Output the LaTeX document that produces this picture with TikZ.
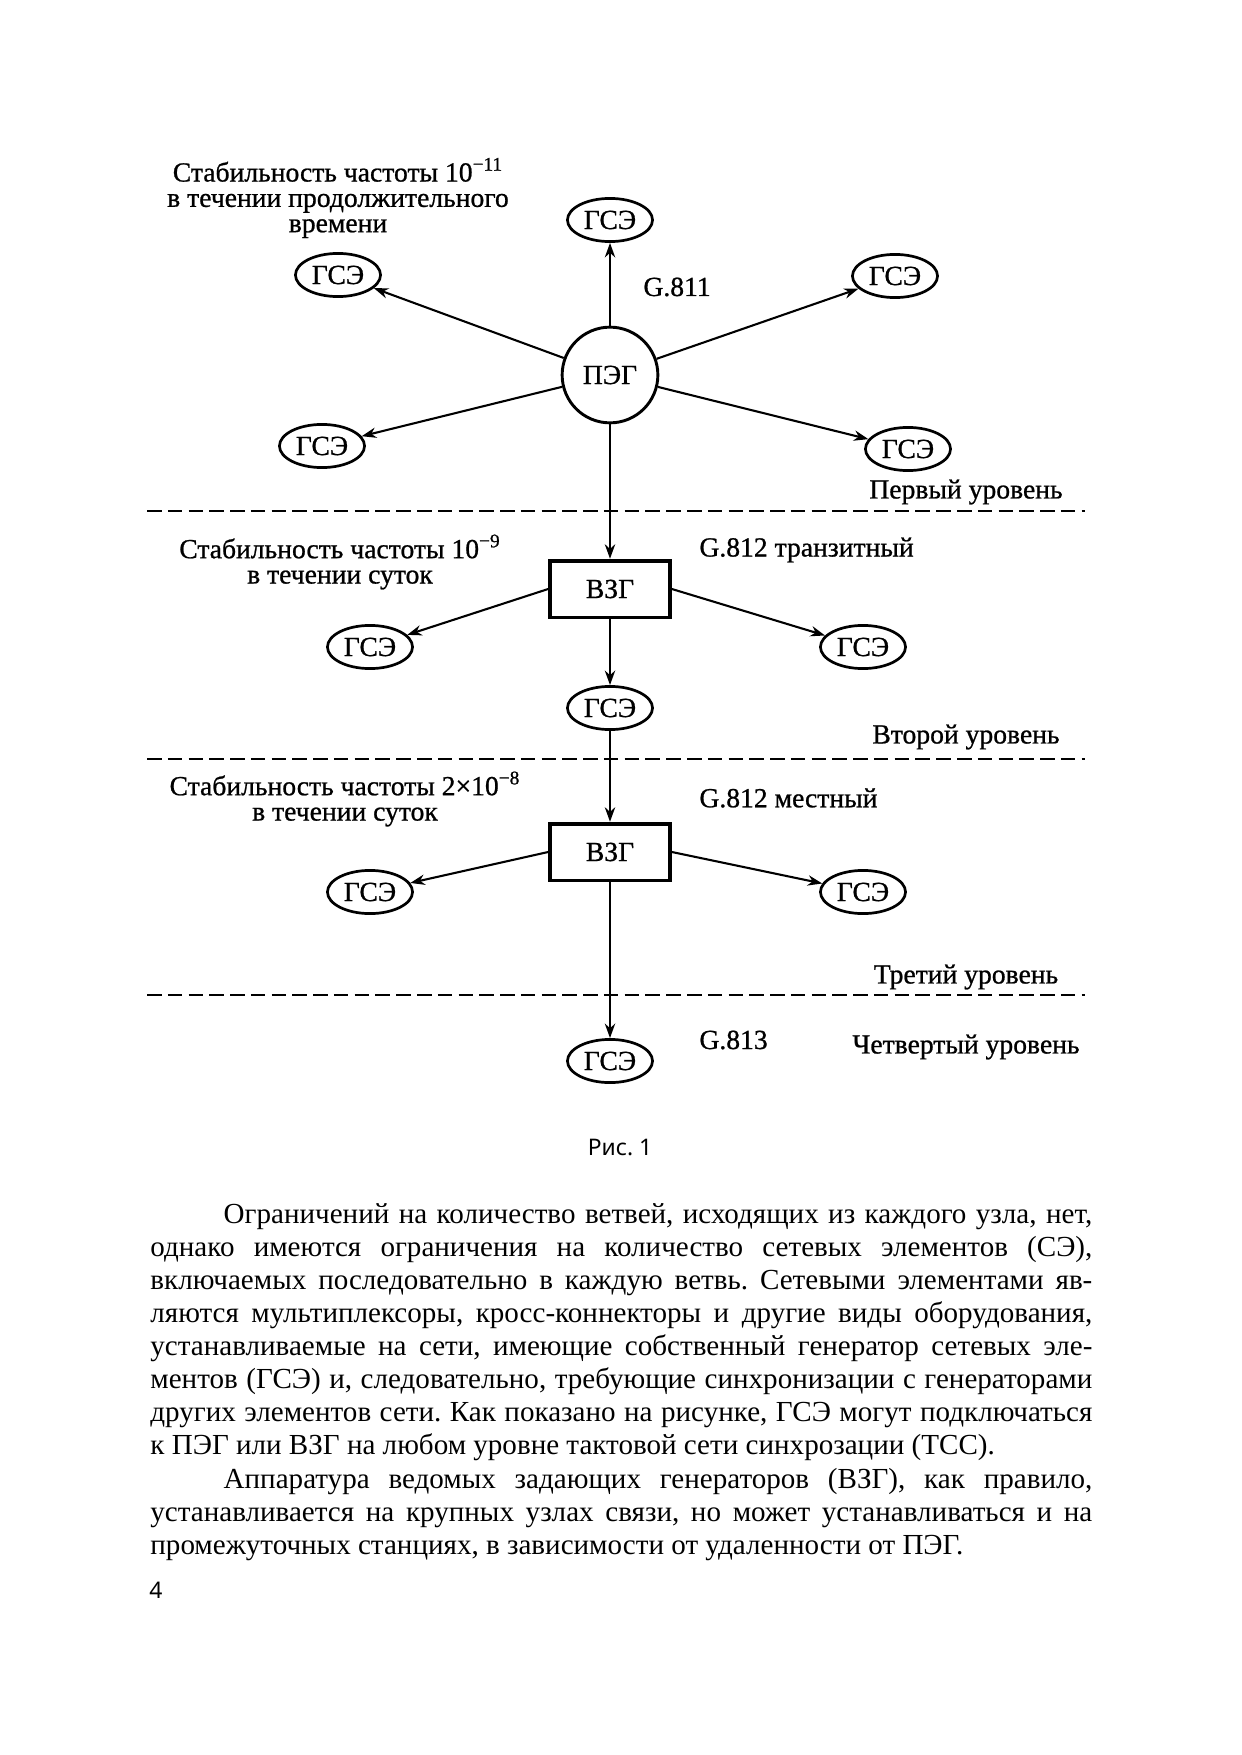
\documentclass[tikz,border=0pt]{standalone}
\usepackage{fontspec}
\setmainfont{Liberation Serif}
\newfontfamily\capfont{Noto Sans}
\newfontfamily\diagfam[FakeBold=0.8]{Liberation Serif}
\usetikzlibrary{shapes.geometric, arrows.meta}

\newcommand{\diagfont}{\diagfam\fontsize{13.3}{12.2}\selectfont}
\frenchspacing

\begin{document}
\begin{tikzpicture} [
            x=0.016922cm, y=-0.016922cm,
            gse/.style   = { ellipse, draw, line width=1.3pt,
                             minimum width=1.44cm, minimum height=0.73cm,
                             inner sep=1pt, font=\diagfont },
            peg/.style   = { circle, draw, line width=1.4pt,
                             minimum size=1.62cm, font=\diagfont },
            vzg/.style   = { rectangle, draw, line width=1.8pt,
                             minimum width=2.03cm, minimum height=0.96cm,
                             font=\diagfont },
            line/.style  = { draw, line width=1pt,
                             -{Stealth[length=7pt, width=5pt]} },
            note/.style  = { align=center, font=\diagfont, inner sep=0pt },
            level/.style = { draw, line width=1.4pt, dash pattern=on 7pt off 3pt },
            para/.style  = { anchor=base west, inner sep=0pt,
                             font=\fontsize{14}{16}\selectfont\frenchspacing },
          ]
          \useasboundingbox (0,0) rectangle (1241,1755);

          % first level
          \node (peg) [peg] at (610,375) {ПЭГ};
          \node (gseT)  [gse] at (610,220) {ГСЭ};
          \node (gseUL) [gse] at (338,275) {ГСЭ};
          \node (gseUR) [gse] at (895,276) {ГСЭ};
          \node (gseLL) [gse] at (322,446) {ГСЭ};
          \node (gseLR) [gse] at (908,449) {ГСЭ};
          \node (stab1) [note] at (338,198) {Стабильность частоты 10\textsuperscript{−11}\\
                                             в течении продолжительного\\ времени};
          \node (g811)  [note, anchor=west] at (643,287) {G.811};
          \node (lev1)  [note] at (966,492) {Первый уровень};

          % second level
          \node (vzgA)  [vzg] at (610,589) {ВЗГ};
          \node (gseAL) [gse] at (370,647) {ГСЭ};
          \node (gseAR) [gse] at (863,647) {ГСЭ};
          \node (gseA)  [gse] at (610,708) {ГСЭ};
          \node (stab2) [note] at (340,562) {Стабильность частоты 10\textsuperscript{−9}\\
                                             в течении суток};
          \node (g812a) [note, anchor=west] at (699,550) {G.812 транзитный};
          \node (lev2)  [note] at (966,737) {Второй уровень};

          % third level
          \node (vzgB)  [vzg] at (610,852) {ВЗГ};
          \node (gseBL) [gse] at (370,892) {ГСЭ};
          \node (gseBR) [gse] at (863,892) {ГСЭ};
          \node (stab3) [note] at (345,799) {Стабильность частоты 2×10\textsuperscript{−8}\\
                                             в течении суток};
          \node (g812b) [note, anchor=west] at (699,798) {G.812 местный};
          \node (lev3)  [note] at (966,977) {Третий уровень};

          % fourth level
          \node (gseC)  [gse] at (610,1061) {ГСЭ};
          \node (g813)  [note, anchor=west] at (699,1040) {G.813};
          \node (lev4)  [note] at (966,1047) {Четвертый уровень};

          % level borders
          \draw [level] (147,511) -- (1085,511);
          \draw [level] (147,759) -- (1085,759);
          \draw [level] (147,995) -- (1085,995);

          \draw [line] (peg) -- (gseT);
          \draw [line] (peg) -- (gseUL);
          \draw [line] (peg) -- (gseUR);
          \draw [line] (peg) -- (gseLL);
          \draw [line] (peg) -- (gseLR);
          \draw [line] (peg) -- (vzgA);
          \draw [line] (vzgA.west) -- (gseAL);
          \draw [line] (vzgA.east) -- (gseAR);
          \draw [line] (vzgA) -- (gseA);
          \draw [line] (gseA) -- (vzgB);
          \draw [line] (vzgB.west) -- (gseBL);
          \draw [line] (vzgB.east) -- (gseBR);
          \draw [line] (vzgB) -- (gseC);

          % caption and text
          \node (cap) [inner sep=0pt, font=\capfont\fontsize{11}{12}\selectfont] at (620,1147) {Рис. 1};
          \node (l1)  [para] at (150,1223) {\makebox[15.94cm][s]{\hspace*{1.24cm}Ограничений на количество ветвей, исходящих из каждого узла, нет,}};
          \node (l2)  [para] at (150,1256) {\makebox[15.94cm][s]{однако имеются ограничения на количество сетевых элементов (СЭ),}};
          \node (l3)  [para] at (150,1289) {\makebox[15.94cm][s]{включаемых последовательно в каждую ветвь. Сетевыми элементами яв-}};
          \node (l4)  [para] at (150,1322) {\makebox[15.94cm][s]{ляются мультиплексоры, кросс-коннекторы и другие виды оборудования,}};
          \node (l5)  [para] at (150,1355) {\makebox[15.94cm][s]{устанавливаемые на сети, имеющие собственный генератор сетевых эле-}};
          \node (l6)  [para] at (150,1388) {\makebox[15.94cm][s]{ментов (ГСЭ) и, следовательно, требующие синхронизации с генераторами}};
          \node (l7)  [para] at (150,1421) {\makebox[15.94cm][s]{других элементов сети. Как показано на рисунке, ГСЭ могут подключаться}};
          \node (l8)  [para] at (150,1454) {к ПЭГ или ВЗГ на любом уровне тактовой сети синхрозации (ТСС).};
          \node (l9)  [para] at (150,1488) {\makebox[15.94cm][s]{\hspace*{1.24cm}Аппаратура ведомых задающих генераторов (ВЗГ), как правило,}};
          \node (l10) [para] at (150,1521) {\makebox[15.94cm][s]{устанавливается на крупных узлах связи, но может устанавливаться и на}};
          \node (l11) [para] at (150,1554) {промежуточных станциях, в зависимости от удаленности от ПЭГ.};
          \node (pnum) [inner sep=0pt, font=\capfont\fontsize{11}{12}\selectfont] at (156,1590) {4};
\end{tikzpicture}
\end{document}
